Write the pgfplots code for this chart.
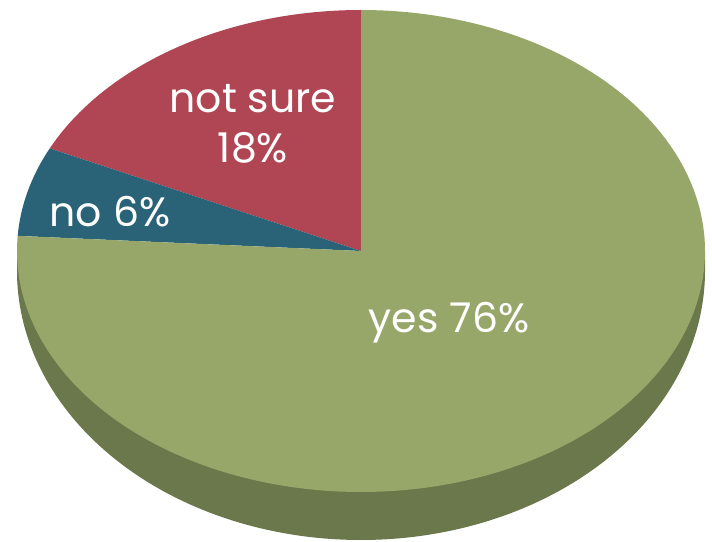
\documentclass[border=0pt]{standalone}
\usepackage{pgfplots}
\usepackage{pgfplotstable}
\pgfplotsset{compat=1.18}
\usepackage{fontspec}
\setmainfont{Poppins}
\definecolor{pgreen}{RGB}{151,167,106}
\definecolor{pside}{RGB}{107,120,75}
\definecolor{pred}{RGB}{176,69,83}
\definecolor{pblue}{RGB}{42,99,120}
\pgfplotstableread{
label value
notsure 18
no 6
yes 76
}\slices
\pgfplotstablegetelem{0}{value}\of\slices \let\vns\pgfplotsretval
\pgfplotstablegetelem{1}{value}\of\slices \let\vno\pgfplotsretval
\pgfplotstablegetelem{2}{value}\of\slices \let\vyes\pgfplotsretval
\pgfmathsetmacro\aA{90}
\pgfmathsetmacro\aB{90+3.6*\vns}
\pgfmathsetmacro\aC{\aB+3.6*\vno}
\pgfmathsetmacro\aD{\aC+3.6*\vyes}
\begin{document}
\begin{tikzpicture}
\begin{axis}[
  width=712pt, height=541pt, scale only axis,
  xmin=-361, xmax=351, ymin=-290, ymax=251,
  hide axis, clip=false,
]
% invisible frame so the picture keeps the full canvas
\addplot[draw=none, forget plot] coordinates {(-361,-290) (351,251)};
% side of the pie
\addplot[fill=pside, draw=none, domain=180:360, samples=181]
  ({344*cos(x)},{-20+269*sin(x)}) -- (axis cs:344,0) -- (axis cs:-344,0) -- cycle;
% top face
\addplot[fill=pred, draw=none, domain=\aA:\aB, samples=80]
  ({344*cos(x)},{241*sin(x)}) -- (axis cs:0,0) -- cycle;
\addplot[fill=pblue, draw=none, domain=\aB:\aC, samples=40]
  ({344*cos(x)},{241*sin(x)}) -- (axis cs:0,0) -- cycle;
\addplot[fill=pgreen, draw=none, domain=\aC:\aD, samples=300]
  ({344*cos(x)},{241*sin(x)}) -- (axis cs:0,0) -- cycle;
\node[text=white, font=\fontsize{41}{50}\selectfont, align=center] at (axis cs:-108,127) {not sure\\18\%};
\node[text=white, font=\fontsize{41}{50}\selectfont] at (axis cs:-251,39) {no 6\%};
\node[text=white, font=\fontsize{41}{50}\selectfont] at (axis cs:88,-72) {yes 76\%};
\end{axis}
\end{tikzpicture}
\end{document}
